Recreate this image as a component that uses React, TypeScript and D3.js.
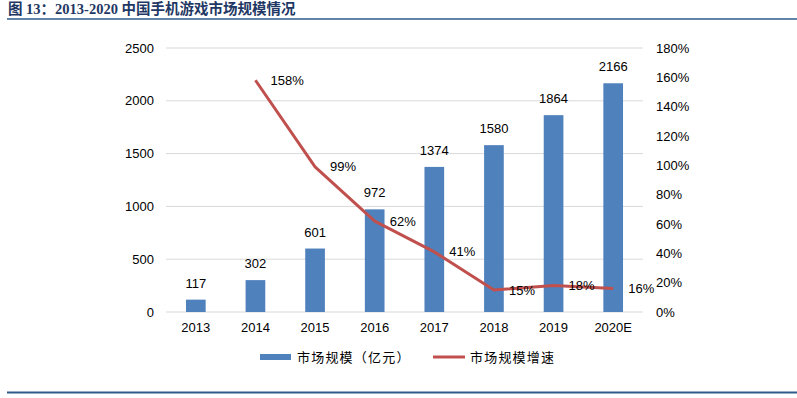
import React from "react";
import * as d3 from "d3";

const categories = ["2013", "2014", "2015", "2016", "2017", "2018", "2019", "2020E"];
const marketSize = [117, 302, 601, 972, 1374, 1580, 1864, 2166];
const growth: (number | null)[] = [null, 158, 99, 62, 41, 15, 18, 16];
const leftTicks = [0, 500, 1000, 1500, 2000, 2500];
const rightTicks = [0, 20, 40, 60, 80, 100, 120, 140, 160, 180];

const W = 797;
const H = 398;
const m = { left: 166, right: 643, top: 48, bottom: 312 };
const BAR = "#4F81BD";
const LINE = "#C0504D";
const FONT = "'Liberation Sans', Arial, sans-serif";
const CJK = "'Noto Sans CJK SC', sans-serif";

export default function App() {
  const x = d3.scaleBand<string>().domain(categories).range([m.left, m.right]).paddingInner(0.67).paddingOuter(0.335);
  const xc = (c: string) => (x(c) as number) + x.bandwidth() / 2;
  const yL = d3.scaleLinear().domain([0, 2500]).range([m.bottom, m.top]);
  const yR = d3.scaleLinear().domain([0, 180]).range([m.bottom, m.top]);
  const pts = categories
    .map((c, i) => ({ c, v: growth[i] }))
    .filter((d) => d.v !== null) as { c: string; v: number }[];
  const line = d3
    .line<{ c: string; v: number }>()
    .x((d) => xc(d.c))
    .y((d) => yR(d.v));

  return (
    <svg width={W} height={H} style={{ position: "absolute", left: 0, top: 0, background: "#fff" }}>
      <text x={8} y={14} fill="#1F3864" fontSize={14.5} fontWeight="bold" fontFamily={`'Liberation Serif', 'Times New Roman', ${CJK}`}>
        图 13：2013-2020 中国手机游戏市场规模情况
      </text>
      <line x1={7} x2={797} y1={19} y2={19} stroke="#2E5C8A" strokeWidth={1.5} />
      {leftTicks.map((t) => (
        <g key={t}>
          <line x1={m.left} x2={m.right} y1={yL(t)} y2={yL(t)} stroke="#D9D9D9" strokeWidth={1} />
          <text x={154} y={yL(t)} dy="0.35em" textAnchor="end" fontSize={13} fontFamily={FONT} fill="#000">
            {t}
          </text>
        </g>
      ))}
      {rightTicks.map((t) => (
        <text key={t} x={656} y={yR(t)} dy="0.35em" fontSize={13} fontFamily={FONT} fill="#000">
          {t}%
        </text>
      ))}
      {categories.map((c, i) => (
        <g key={c}>
          <rect x={x(c)} y={yL(marketSize[i])} width={x.bandwidth()} height={m.bottom - yL(marketSize[i])} fill={BAR} />
          <text x={xc(c)} y={yL(marketSize[i]) - 12} textAnchor="middle" fontSize={13} fontFamily={FONT} fill="#000">
            {marketSize[i]}
          </text>
          <text x={xc(c)} y={332} textAnchor="middle" fontSize={13} fontFamily={FONT} fill="#000">
            {c}
          </text>
        </g>
      ))}
      <path d={line(pts) as string} fill="none" stroke={LINE} strokeWidth={3} strokeLinejoin="round" />
      {pts.map((d) => (
        <text key={d.c} x={xc(d.c) + 15} y={yR(d.v)} dy="0.35em" fontSize={13} fontFamily={FONT} fill="#000">
          {d.v}%
        </text>
      ))}
      <rect x={260} y={354} width={31} height={6} fill={BAR} />
      <text x={297} y={357} dy="0.35em" fontSize={13} letterSpacing={1.2} fontFamily={CJK} fill="#000">
        市场规模（亿元）
      </text>
      <line x1={433} x2={465} y1={357} y2={357} stroke={LINE} strokeWidth={3} />
      <text x={470} y={357} dy="0.35em" fontSize={13} letterSpacing={1.2} fontFamily={CJK} fill="#000">
        市场规模增速
      </text>
      <line x1={7} x2={797} y1={392.5} y2={392.5} stroke="#2E5C8A" strokeWidth={2} />
    </svg>
  );
}
